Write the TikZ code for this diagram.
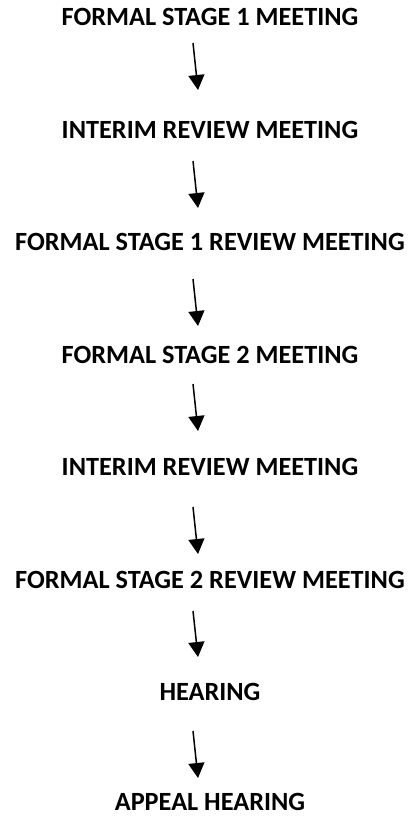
\documentclass[tikz,border=0pt]{standalone}
\usepackage{fontspec}
\setmainfont{Carlito}
\usetikzlibrary{arrows.meta}
\begin{document}
\begin{tikzpicture}[x=1pt,y=-1pt,
  lbl/.style={font=\bfseries\fontsize{26.3}{30}\selectfont, inner sep=0pt, text height=0.635em, text depth=0pt, anchor=center},
  arr/.style={line width=1.5pt, -{Triangle[width=16pt,length=15pt]}}]
\useasboundingbox (0,0) rectangle (412,818);
\node[lbl] (n1) at (210,22.5) {FORMAL STAGE 1 MEETING};
\node[lbl] (n2) at (210,135) {INTERIM REVIEW MEETING};
\node[lbl] (n3) at (210,247.5) {FORMAL STAGE 1 REVIEW MEETING};
\node[lbl] (n4) at (210,360) {FORMAL STAGE 2 MEETING};
\node[lbl] (n5) at (210,472.5) {INTERIM REVIEW MEETING};
\node[lbl] (n6) at (210,585) {FORMAL STAGE 2 REVIEW MEETING};
\node[lbl] (n7) at (210,697.5) {HEARING};
\node[lbl] (n8) at (210,807) {APPEAL HEARING};
\coordinate (s1) at (193,43);  \coordinate (e1) at (198,90);
\coordinate (s2) at (193,161); \coordinate (e2) at (198,208);
\coordinate (s3) at (193,279); \coordinate (e3) at (198,326);
\coordinate (s4) at (193,384); \coordinate (e4) at (198,431);
\coordinate (s5) at (193,507); \coordinate (e5) at (198,554);
\coordinate (s6) at (193,611); \coordinate (e6) at (198,657);
\coordinate (s7) at (193,731); \coordinate (e7) at (198,778);
\foreach \i in {1,...,7} \draw[arr] (s\i) -- (e\i);
\end{tikzpicture}
\end{document}
